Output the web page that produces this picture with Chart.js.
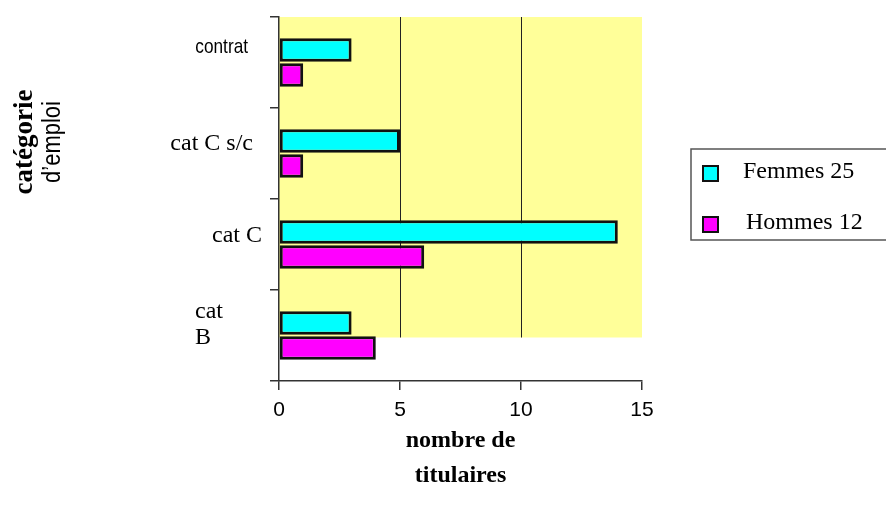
<!DOCTYPE html>
<html>
<head>
<meta charset="utf-8">
<script src="https://cdn.jsdelivr.net/npm/chart.js@4.4.0/dist/chart.umd.min.js"></script>
<style>
  body { margin: 0; background: #fff; }
</style>
</head>
<body>
<canvas id="chart" width="886" height="514"></canvas>
<script>
// data
const categories = ["contrat", "cat C s/c", "cat C", "cat B"];
const femmes = [3, 5, 14, 3];
const hommes = [1, 1, 6, 4];
const xTicks = [0, 5, 10, 15];
const gridValues = [5, 10];

const serif = "'Liberation Serif', 'Times New Roman', serif";
const sans = "'Liberation Sans Narrow', 'Arial Narrow', 'Liberation Sans', Arial, sans-serif";

// how each category label is drawn (font, anchor, offset from the band centre)
const labelStyle = [
  { font: "21px " + sans, align: "right", x: 248, dy: -15, squeeze: 0.82 },
  { font: "24px " + serif, align: "right", x: 253, dy: -10 },
  { font: "24px " + serif, align: "right", x: 262, dy: -9 },
  { font: "24px " + serif, align: "left", x: 195, dy: -11, lines: ["cat", "B"] },
];

const sum = (arr) => arr.reduce((a, b) => a + b, 0);

const backdrop = {
  id: "backdrop",
  beforeDraw(chart) {
    const { ctx, chartArea, scales } = chart;
    const bottom = scales.y.getPixelForValue(categories.length - 1) + 2;
    ctx.save();
    ctx.fillStyle = "#ffff99";
    ctx.fillRect(chartArea.left, chartArea.top, chartArea.right - chartArea.left, bottom - chartArea.top);
    ctx.strokeStyle = "#222";
    ctx.lineWidth = 1;
    gridValues.forEach((v) => {
      const x = Math.round(scales.x.getPixelForValue(v)) + 0.5;
      ctx.beginPath();
      ctx.moveTo(x, chartArea.top);
      ctx.lineTo(x, bottom);
      ctx.stroke();
    });
    ctx.restore();
  },
};

const texts = {
  id: "texts",
  afterDraw(chart) {
    const { ctx, scales } = chart;
    ctx.save();
    ctx.fillStyle = "#000";
    ctx.textBaseline = "middle";

    // category labels
    categories.forEach((cat, i) => {
      const s = labelStyle[i];
      const yc = scales.y.getPixelForValue(i) + s.dy;
      ctx.font = s.font;
      ctx.textAlign = s.align;
      if (s.lines) {
        ctx.fillText(s.lines[0], s.x, yc - 13);
        ctx.fillText(s.lines[1], s.x, yc + 13);
      } else if (s.squeeze) {
        ctx.save();
        ctx.translate(s.x, yc);
        ctx.scale(s.squeeze, 1);
        ctx.fillText(cat, 0, 0);
        ctx.restore();
      } else {
        ctx.fillText(cat, s.x, yc);
      }
    });

    // axis titles
    ctx.textAlign = "center";
    ctx.font = "bold 24px " + serif;
    const xc = (chart.chartArea.left + chart.chartArea.right) / 2;
    ctx.fillText("nombre de", xc, 441);
    ctx.fillText("titulaires", xc, 476);

    ctx.save();
    ctx.translate(25, 142);
    ctx.rotate(-Math.PI / 2);
    ctx.font = "bold 27px " + serif;
    ctx.fillText("catégorie", 0, 0);
    ctx.restore();
    ctx.save();
    ctx.translate(53, 142);
    ctx.rotate(-Math.PI / 2);
    ctx.scale(0.88, 1);
    ctx.font = "25px " + sans;
    ctx.fillText("d’emploi", 0, 0);
    ctx.restore();

    // legend box
    ctx.strokeStyle = "#555";
    ctx.lineWidth = 1.5;
    ctx.strokeRect(691, 149, 210, 91);
    const entries = [
      { label: "Femmes " + sum(femmes), color: "#00ffff", y: 174, tx: 743 },
      { label: "Hommes " + sum(hommes), color: "#ff00ff", y: 225, tx: 746 },
    ];
    entries.forEach((e) => {
      ctx.fillStyle = e.color;
      ctx.fillRect(703, e.y - 8, 15, 15);
      ctx.strokeStyle = "#111";
      ctx.lineWidth = 2;
      ctx.strokeRect(703, e.y - 8, 15, 15);
      ctx.fillStyle = "#000";
      ctx.textAlign = "left";
      ctx.font = "24px " + serif;
      ctx.fillText(e.label, e.tx, e.y - 2);
    });
    ctx.restore();
  },
};

new Chart(document.getElementById("chart"), {
  type: "bar",
  data: {
    labels: categories,
    datasets: [
      {
        label: "Femmes",
        data: femmes,
        backgroundColor: "#00ffff",
        borderColor: "#111",
        borderWidth: 3,
        borderSkipped: false,
        categoryPercentage: 0.55,
        barPercentage: 0.94,
      },
      {
        label: "Hommes",
        data: hommes,
        backgroundColor: "#ff00ff",
        borderColor: "#111",
        borderWidth: 3,
        borderSkipped: false,
        categoryPercentage: 0.55,
        barPercentage: 0.94,
      },
    ],
  },
  options: {
    indexAxis: "y",
    responsive: false,
    animation: false,
    layout: { padding: { top: 17, right: 244, left: 0, bottom: 0 } },
    plugins: {
      legend: { display: false },
      tooltip: { enabled: false },
    },
    scales: {
      x: {
        min: 0,
        max: 15,
        afterBuildTicks(scale) {
          scale.ticks = xTicks.map((v) => ({ value: v }));
        },
        afterFit(scale) {
          scale.height = 133;
        },
        ticks: {
          color: "#000",
          padding: 8,
          font: { family: sans, size: 21 },
        },
        grid: {
          drawOnChartArea: false,
          tickLength: 9,
          color: "#333",
          lineWidth: 1.5,
        },
        border: { display: true, color: "#333", width: 1.5 },
      },
      y: {
        afterFit(scale) {
          scale.width = 279;
        },
        ticks: { display: false },
        grid: {
          offset: true,
          drawOnChartArea: false,
          tickLength: 9,
          color: "#333",
          lineWidth: 1.5,
        },
        border: { display: true, color: "#333", width: 1.5 },
      },
    },
  },
  plugins: [backdrop, texts],
});
</script>
</body>
</html>
